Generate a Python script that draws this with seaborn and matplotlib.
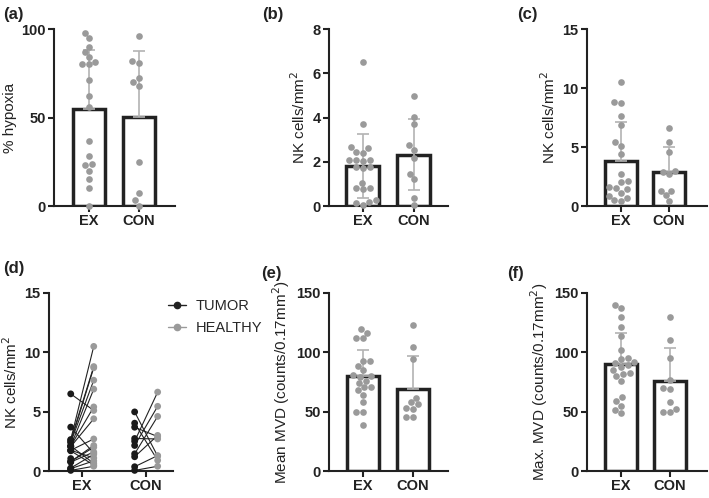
import matplotlib
matplotlib.use("Agg")
import matplotlib.pyplot as plt
from matplotlib.lines import Line2D
import numpy as np
import pandas as pd
import seaborn as sns

groups = ["EX", "CON"]

# (a) % hypoxia
hypoxia_ex = [98, 95, 90, 87, 84, 81.5, 80, 80.5, 71, 62, 56, 37, 28, 23, 24, 20, 15, 10, 0]
hypoxia_con = [96.2, 81.9, 80.6, 70.2, 72.1, 68, 25, 7.2, 3.2, 0]

# (b) NK cells/mm2 in tumour
nk_tumor_ex = [6.5, 3.7, 2.65, 2.6, 2.45, 2.4, 2.1, 2.1, 2.05, 2.1, 1.75,
               1.75, 1.7, 1.05, 0.8, 0.75, 0.8, 0.25, 0.2, 0.15, 0.05]
nk_tumor_con = [4.98, 4.03, 3.69, 2.74, 2.51, 2.15, 1.45, 1.2, 0.36, 0.05]

# (c) NK cells/mm2 in healthy tissue
nk_healthy_ex = [10.5, 8.8, 8.7, 7.65, 6.9, 5.4, 5.1, 4.4, 2.7, 2.15,
                 2.0, 1.6, 1.5, 1.4, 1.1, 0.85, 0.65, 0.5, 0.4]
nk_healthy_con = [6.65, 5.45, 4.6, 3.0, 2.9, 2.7, 1.3, 1.25, 0.9, 0.4]

# (d) healthy index paired with each tumour sample (None = no pair)
pair_ex = [6, 12, 0, 1, 2, 3, 4, 5, 7, 16, 8, 14, 17, None, 9, 11, 10, 13, 15, None, 18]
pair_con = [7, 8, 4, 5, 0, 1, 2, 3, 6, 9]

# (e) mean MVD, (f) max MVD
mvd_mean_ex = [119.5, 116.5, 112, 112, 92.5, 92.5, 88.5, 85, 80.5, 80, 79.5,
               76, 74, 71, 70.5, 68, 64, 58, 50, 50, 39]
mvd_mean_con = [122.7, 104.4, 94.6, 61.9, 58, 56.3, 52.4, 52.9, 45.9, 45.9]
mvd_max_ex = [140, 137, 130, 121, 113.5, 102, 95, 94, 92, 91, 89,
              88, 85, 83, 82, 80, 76, 62, 59, 55, 51, 49]
mvd_max_con = [129.5, 110.6, 95.1, 76.3, 69, 69.8, 52.4, 58.5, 49.3, 49.3]

DARK = "#222222"
DOT = "#9a9a9a"
ERR = "#b3b3b3"

sns.set_style("ticks")
plt.rcParams["font.family"] = ["Liberation Sans", "DejaVu Sans"]

W, H = 709, 498
fig = plt.figure(figsize=(W / 100, H / 100), dpi=100)


def add_ax(x0, x1, y0, y1):
    # pixel box -> figure fraction
    return fig.add_axes([x0 / W, 1 - y1 / H, (x1 - x0) / W, (y1 - y0) / H])


def style(ax, ylabel, yticks, xlim):
    ax.set_ylim(yticks[0], yticks[-1])
    ax.set_yticks(yticks)
    ax.set_xlim(*xlim)
    ax.set_xlabel("")
    ax.set_ylabel(ylabel, fontsize=11, color=DARK, labelpad=3)
    sns.despine(ax=ax)
    for s in ["left", "bottom"]:
        ax.spines[s].set_linewidth(1.5)
        ax.spines[s].set_color(DARK)
    ax.tick_params(width=1.5, length=4, color=DARK, labelsize=10.5, pad=2, labelcolor=DARK)
    for lab in ax.get_xticklabels() + ax.get_yticklabels():
        lab.set_fontweight("bold")


def bar_panel(ax, ex, con, ylabel, yticks, xlim, lower_err=False):
    df = pd.DataFrame({"group": ["EX"] * len(ex) + ["CON"] * len(con), "value": ex + con})
    sns.barplot(data=df, x="group", y="value", order=groups, errorbar=None,
                color="white", edgecolor=DARK, linewidth=2.5, width=0.65, ax=ax)
    stats = df.groupby("group")["value"].agg(["mean", "std"]).loc[groups]
    lo = stats["std"].values if lower_err else np.zeros(len(groups))
    ax.errorbar(range(len(groups)), stats["mean"].values, yerr=[lo, stats["std"].values],
                fmt="none", ecolor=ERR, elinewidth=1.2, capsize=4.5, capthick=1.2, zorder=3)
    sns.swarmplot(data=df, x="group", y="value", order=groups, color=DOT, size=4.8,
                  ax=ax, zorder=4, clip_on=False)
    style(ax, ylabel, yticks, xlim)


nk_label = "NK cells/mm$^2$"

ax_a = add_ax(54, 175, 29, 206)
bar_panel(ax_a, hypoxia_ex, hypoxia_con, "% hypoxia", [0, 50, 100], (-0.7, 1.72))

ax_b = add_ax(329, 448, 29, 206)
bar_panel(ax_b, nk_tumor_ex, nk_tumor_con, nk_label, [0, 2, 4, 6, 8], (-0.66, 1.67), lower_err=True)

ax_c = add_ax(587, 707, 29, 206)
bar_panel(ax_c, nk_healthy_ex, nk_healthy_con, nk_label, [0, 5, 10, 15], (-0.71, 1.79))

ax_e = add_ax(329, 448, 293, 471)
bar_panel(ax_e, mvd_mean_ex, mvd_mean_con, "Mean MVD (counts/0.17mm$^2$)", [0, 50, 100, 150], (-0.68, 1.7))

ax_f = add_ax(587, 707, 293, 471)
bar_panel(ax_f, mvd_max_ex, mvd_max_con, "Max. MVD (counts/0.17mm$^2$)", [0, 50, 100, 150], (-0.7, 1.76))

# (d) paired tumour vs healthy
rows = []
pid = 0
for g, (tum, hea, pairs) in enumerate([(nk_tumor_ex, nk_healthy_ex, pair_ex),
                                        (nk_tumor_con, nk_healthy_con, pair_con)]):
    for i, v in enumerate(tum):
        rows.append({"pair": pid, "x": g - 0.18, "value": v, "tissue": "TUMOR"})
        if pairs[i] is not None:
            rows.append({"pair": pid, "x": g + 0.18, "value": hea[pairs[i]], "tissue": "HEALTHY"})
        pid += 1
df_d = pd.DataFrame(rows)

ax_d = add_ax(49, 173, 293, 471)
sns.lineplot(data=df_d, x="x", y="value", units="pair", estimator=None,
             color=DARK, linewidth=0.8, ax=ax_d, zorder=2)
sns.scatterplot(data=df_d, x="x", y="value", hue="tissue",
                palette={"TUMOR": "#1a1a1a", "HEALTHY": DOT}, s=24, linewidth=0,
                legend=False, ax=ax_d, zorder=3, clip_on=False)
ax_d.set_xticks([0, 1])
ax_d.set_xticklabels(groups)
style(ax_d, nk_label, [0, 5, 10, 15], (-0.52, 1.42))

handles = [Line2D([0], [0], color=DARK, marker="o", ms=4.5, lw=1),
           Line2D([0], [0], color=DOT, marker="o", ms=4.5, lw=1)]
fig.legend(handles, ["TUMOR", "HEALTHY"], loc="center left",
           bbox_to_anchor=(155 / W, 1 - 317 / H), frameon=False, fontsize=10.5,
           handlelength=1.2, handletextpad=0.7, labelspacing=0.6)

# panel letters
for lab, x, y in [("(a)", 3, 14), ("(b)", 262, 14), ("(c)", 517, 14),
                  ("(d)", 3, 268), ("(e)", 261, 273), ("(f)", 507, 273)]:
    fig.text(x / W, 1 - y / H, lab, fontsize=12, fontweight="bold", va="center", color=DARK)

fig.savefig("out.png", dpi=100)
